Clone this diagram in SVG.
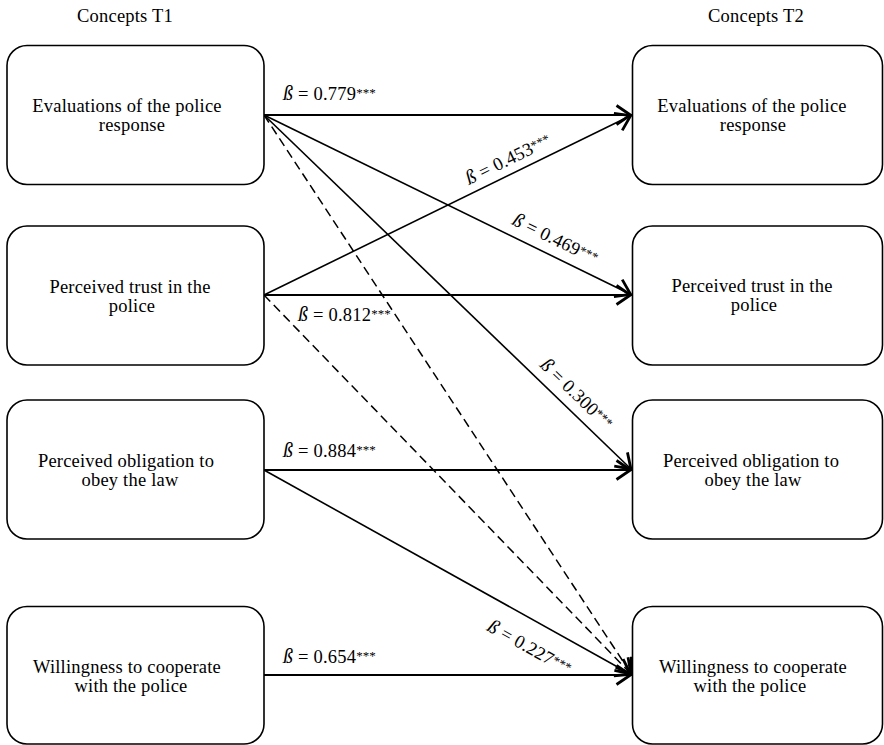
<svg xmlns="http://www.w3.org/2000/svg" width="884" height="745" viewBox="0 0 884 745">
  <style>
    .box { fill: #ffffff; stroke: #000000; stroke-width: 1.6; }
    .t { font-family: "Liberation Serif", "Times New Roman", serif; font-size: 18.5px; letter-spacing: 0.2px; fill: #000000; }
    .c { text-anchor: middle; }
    .lbl { font-family: "Liberation Serif", "Times New Roman", serif; font-size: 18.5px; letter-spacing: 0.2px; fill: #000000; }
    .b { font-style: italic; font-size: 20px; }
    .st { font-size: 13px; letter-spacing: 0px; }
    .ln { fill: none; stroke: #000000; stroke-width: 1.6; }
    .hz { stroke-width: 2; }
    .ds { stroke-dasharray: 9 5; stroke-width: 1.5; }
  </style>
  <defs>
    <marker id="arr" markerUnits="userSpaceOnUse" orient="auto" refX="1.5" refY="0" markerWidth="30" markerHeight="30" overflow="visible">
      <path d="M-14,-9.5 L0,0 L-14,9.5" fill="none" stroke="#000000" stroke-width="2.8" stroke-linejoin="miter"/>
    </marker>
  </defs>
  <rect width="884" height="745" fill="#ffffff"/>

  <text class="t c" x="125" y="22">Concepts T1</text>
  <text class="t c" x="756" y="22">Concepts T2</text>

  <g id="connectors">
    <line class="ln hz" x1="264" y1="115" x2="632" y2="115" marker-end="url(#arr)"/>
    <line class="ln" x1="264" y1="115" x2="632" y2="295" marker-end="url(#arr)"/>
    <line class="ln" x1="264" y1="115" x2="632" y2="470" marker-end="url(#arr)"/>
    <line class="ln ds" x1="264" y1="115" x2="632" y2="675" marker-end="url(#arr)"/>
    <line class="ln" x1="264" y1="295" x2="632" y2="115" marker-end="url(#arr)"/>
    <line class="ln hz" x1="264" y1="295" x2="632" y2="295" marker-end="url(#arr)"/>
    <line class="ln ds" x1="264" y1="295" x2="632" y2="675" marker-end="url(#arr)"/>
    <line class="ln hz" x1="264" y1="470" x2="632" y2="470" marker-end="url(#arr)"/>
    <line class="ln" x1="264" y1="470" x2="632" y2="675" marker-end="url(#arr)"/>
    <line class="ln hz" x1="264" y1="675" x2="632" y2="675" marker-end="url(#arr)"/>

    <text class="lbl" x="283" y="100"><tspan class="b">ß</tspan> = 0.779<tspan class="st" dy="-3">***</tspan></text>
    <text class="lbl" x="298" y="321"><tspan class="b">ß</tspan> = 0.812<tspan class="st" dy="-3">***</tspan></text>
    <text class="lbl" x="283" y="457"><tspan class="b">ß</tspan> = 0.884<tspan class="st" dy="-3">***</tspan></text>
    <text class="lbl" x="283" y="663"><tspan class="b">ß</tspan> = 0.654<tspan class="st" dy="-3">***</tspan></text>
    <text class="lbl" transform="translate(469,185) rotate(-26.06)"><tspan class="b">ß</tspan> = 0.453<tspan class="st" dy="-3">***</tspan></text>
    <text class="lbl" transform="translate(511,224) rotate(26.06)"><tspan class="b">ß</tspan> = 0.469<tspan class="st" dy="-3">***</tspan></text>
    <text class="lbl" transform="translate(539,366) rotate(43.97)"><tspan class="b">ß</tspan> = 0.300<tspan class="st" dy="-3">***</tspan></text>
    <text class="lbl" transform="translate(486,630) rotate(29.12)"><tspan class="b">ß</tspan> = 0.227<tspan class="st" dy="-3">***</tspan></text>
  </g>

  <g id="t1-evaluations">
    <rect class="box" x="7" y="45.5" width="257" height="139" rx="20"/>
    <text class="t c" x="127" y="112">Evaluations of the police</text>
    <text class="t c" x="132" y="131">response</text>
  </g>
  <g id="t1-trust">
    <rect class="box" x="7" y="226" width="257" height="139" rx="20"/>
    <text class="t c" x="130" y="293">Perceived trust in the</text>
    <text class="t c" x="132" y="312">police</text>
  </g>
  <g id="t1-obligation">
    <rect class="box" x="7" y="400" width="257" height="139" rx="20"/>
    <text class="t c" x="126" y="467">Perceived obligation to</text>
    <text class="t c" x="130" y="486">obey the law</text>
  </g>
  <g id="t1-willingness">
    <rect class="box" x="7" y="606.5" width="257" height="137.5" rx="20"/>
    <text class="t c" x="127" y="673">Willingness to cooperate</text>
    <text class="t c" x="131" y="692">with the police</text>
  </g>

  <g id="t2-evaluations">
    <rect class="box" x="632.5" y="45.5" width="250" height="139" rx="20"/>
    <text class="t c" x="752" y="112">Evaluations of the police</text>
    <text class="t c" x="753" y="131">response</text>
  </g>
  <g id="t2-trust">
    <rect class="box" x="632.5" y="226" width="250" height="139" rx="20"/>
    <text class="t c" x="752" y="292">Perceived trust in the</text>
    <text class="t c" x="754" y="311">police</text>
  </g>
  <g id="t2-obligation">
    <rect class="box" x="632.5" y="400" width="250" height="139" rx="20"/>
    <text class="t c" x="751" y="467">Perceived obligation to</text>
    <text class="t c" x="753" y="486">obey the law</text>
  </g>
  <g id="t2-willingness">
    <rect class="box" x="632.5" y="606.5" width="250" height="137.5" rx="20"/>
    <text class="t c" x="753" y="673">Willingness to cooperate</text>
    <text class="t c" x="750" y="692">with the police</text>
  </g>
</svg>
